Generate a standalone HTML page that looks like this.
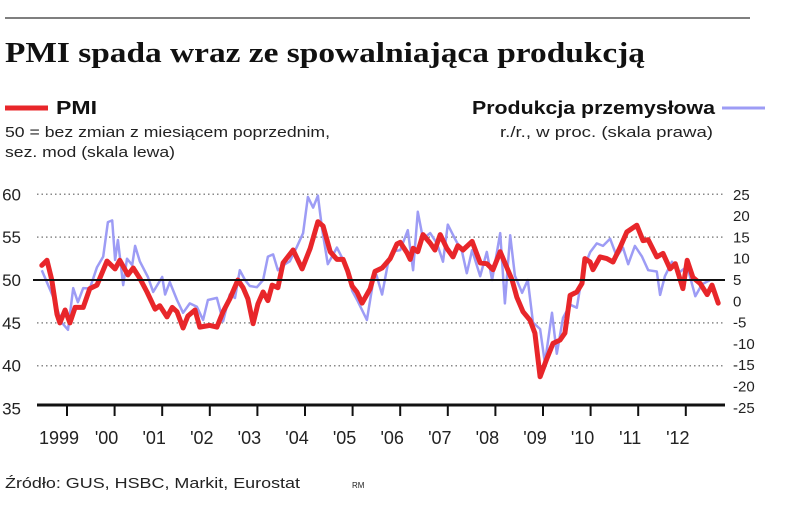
<!DOCTYPE html>
<html><head><meta charset="utf-8"><style>
body{margin:0;background:#fff;width:805px;height:508px;overflow:hidden;font-family:"Liberation Sans",sans-serif}
svg{display:block}
</style></head><body>
<svg id="chart" width="805" height="508" viewBox="0 0 805 508" xmlns="http://www.w3.org/2000/svg">
<line x1="5" y1="18" x2="750" y2="18" stroke="#555" stroke-width="1.5"/>
<text x="5" y="62" font-family="Liberation Serif" font-weight="bold" font-size="28" fill="#111" textLength="640" lengthAdjust="spacingAndGlyphs">PMI spada wraz ze spowalniająca produkcją</text>
<line x1="5" y1="108" x2="48" y2="108" stroke="#e8262a" stroke-width="5"/>
<text x="56" y="114" font-weight="bold" font-size="18" fill="#111" textLength="41" lengthAdjust="spacingAndGlyphs">PMI</text>
<text x="5" y="137" font-size="15" fill="#222" textLength="325" lengthAdjust="spacingAndGlyphs">50 = bez zmian z miesiącem poprzednim,</text>
<text x="5" y="157" font-size="15" fill="#222" textLength="170" lengthAdjust="spacingAndGlyphs">sez. mod (skala lewa)</text>
<text x="715" y="114" text-anchor="end" font-weight="bold" font-size="18" fill="#111" textLength="243" lengthAdjust="spacingAndGlyphs">Produkcja przemysłowa</text>
<line x1="722" y1="108" x2="765" y2="108" stroke="#9d9cf5" stroke-width="3"/>
<text x="713" y="137" text-anchor="end" font-size="15" fill="#222" textLength="213" lengthAdjust="spacingAndGlyphs">r./r., w proc. (skala prawa)</text>
<g id="grid"></g><g id="series"></g><g id="axes"></g>
<text x="5" y="488" font-size="15" fill="#222" textLength="295" lengthAdjust="spacingAndGlyphs">Źródło: GUS, HSBC, Markit, Eurostat</text>
<text x="352" y="488" font-size="8" fill="#222">RM</text>
</svg>
<script>
const yearLabels=["1999","'00","'01","'02","'03","'04","'05","'06","'07","'08","'09","'10","'11","'12"];
const leftTicks=[60,55,50,45,40,35];
const rightTicks=[25,20,15,10,5,0,-5,-10,-15,-20,-25];
const pmiDates=[1998.47,1998.58,1998.68,1998.79,1998.85,1998.96,1999.06,1999.17,1999.34,1999.48,1999.63,1999.84,2000.01,2000.11,2000.28,2000.39,2000.53,2000.68,2000.85,2000.95,2001.10,2001.21,2001.31,2001.44,2001.54,2001.69,2001.79,2002.00,2002.15,2002.28,2002.42,2002.59,2002.70,2002.80,2002.91,2003.01,2003.12,2003.22,2003.31,2003.43,2003.54,2003.75,2003.94,2004.11,2004.27,2004.38,2004.53,2004.67,2004.80,2004.90,2004.99,2005.09,2005.20,2005.37,2005.47,2005.62,2005.79,2005.93,2006.00,2006.14,2006.21,2006.27,2006.37,2006.48,2006.63,2006.73,2006.84,2006.98,2007.11,2007.21,2007.32,2007.51,2007.68,2007.82,2007.95,2008.10,2008.20,2008.35,2008.45,2008.58,2008.73,2008.83,2008.94,2009.08,2009.21,2009.36,2009.46,2009.57,2009.71,2009.82,2009.88,2009.99,2010.05,2010.20,2010.34,2010.47,2010.62,2010.76,2010.97,2011.10,2011.21,2011.39,2011.52,2011.67,2011.78,2011.94,2012.03,2012.15,2012.30,2012.45,2012.55,2012.68];
const pmiValues=[51.7,52.3,50,46,45,46.5,45,46.8,46.8,49,49.4,52.2,51.3,52.3,50.6,51.4,50.2,48.6,46.6,47,45.7,46.8,46.3,44.4,45.8,46.5,44.5,44.7,44.5,46.3,47.8,50,49.1,47.8,44.9,47.2,48.6,47.6,49.4,49.1,52,53.5,51.3,53.7,56.8,56.3,53.3,52.4,52.4,51,49.3,48.6,47.3,49,51,51.4,52.5,54.2,54.4,53.2,52.4,53.7,53.3,55.3,54.3,53.5,55.3,53.7,52.7,54,53.5,54.5,52,51.9,51.2,53.3,52,50,48,46.3,45.3,43.8,38.7,40.8,42.6,43,43.8,48.2,48.6,49.6,52.5,52.1,51.2,52.7,52.5,52.1,53.8,55.6,56.4,54.6,54.7,52.7,53.1,51.3,51.9,49,52.3,50.3,49.6,48.3,49.4,47.3];
const prodDates=[1998.47,1998.71,1998.89,1999.02,1999.13,1999.23,1999.34,1999.48,1999.63,1999.76,1999.86,1999.95,2000.01,2000.07,2000.18,2000.26,2000.37,2000.43,2000.53,2000.70,2000.81,2001.00,2001.06,2001.16,2001.31,2001.44,2001.58,2001.73,2001.86,2001.96,2002.15,2002.28,2002.42,2002.53,2002.63,2002.74,2002.84,2002.99,2003.12,2003.22,2003.33,2003.43,2003.58,2003.68,2003.83,2003.96,2004.06,2004.17,2004.27,2004.36,2004.48,2004.67,2004.88,2004.99,2005.11,2005.30,2005.47,2005.62,2005.74,2005.89,2006.00,2006.16,2006.27,2006.37,2006.48,2006.63,2006.77,2006.90,2007.00,2007.15,2007.30,2007.40,2007.51,2007.68,2007.82,2007.93,2008.10,2008.20,2008.31,2008.41,2008.56,2008.68,2008.79,2008.94,2009.04,2009.19,2009.29,2009.42,2009.57,2009.71,2009.84,2009.99,2010.13,2010.26,2010.41,2010.55,2010.68,2010.79,2010.93,2011.08,2011.21,2011.39,2011.46,2011.56,2011.71,2011.84,2012.03,2012.20,2012.34,2012.51];
const prodValues=[7.3,1,-5,-6.7,3.1,-0.2,3.1,3,8,10.5,18.6,19,9.7,14.4,3.8,10,8.5,13,9.4,5.7,2.2,5.7,1.6,4.5,0.3,-2.7,-0.5,-1.3,-4.4,0.3,0.8,-4.7,1.6,0.8,7.3,5,3.6,3.3,5,10.5,11,7.3,8.7,9.4,12.8,16,24.5,22,24.8,17,8.7,12.6,8,2.5,0,-4.4,7.3,1.6,8.7,11.8,12,16.7,7.3,21,14.7,16,13.6,9.3,18,14.7,11.6,6.6,12,5.9,11.6,5,16,-0.5,15.5,6,2,5,-5,-6.5,-14.5,-2.7,-12.3,-3.9,-0.8,-1.5,7.3,11.5,13.6,13,14.7,10.5,12.6,8.7,13,10.5,7.3,7,1.5,5.9,9.3,6.6,8.2,1.2,4,5];
const NS='http://www.w3.org/2000/svg';
const X=y=>67+(y-1999)*47.6;
const YL=v=>280-(v-50)*8.57;
const YR=v=>280-(v-5)*4.26;
function mk(tag,attrs,parent,txt){const e=document.createElementNS(NS,tag);for(const k in attrs)e.setAttribute(k,attrs[k]);if(txt!==undefined)e.textContent=txt;parent.appendChild(e);return e;}
const grid=document.getElementById('grid'),series=document.getElementById('series'),axes=document.getElementById('axes');
leftTicks.forEach(v=>{
  if(v===35||v===50)return;
  const l=mk('line',{x1:37,x2:725,y1:YL(v),y2:YL(v),stroke:'#888','stroke-width':1.5,'stroke-dasharray':'1.5,3'},grid);
  
  
});
leftTicks.forEach(v=>{
  const t=mk('text',{x:21,y:YL(v)+6,'text-anchor':'end','font-size':17,fill:'#222'},axes,String(v));
  
  
});
rightTicks.forEach(v=>{
  const t=mk('text',{x:733,y:YR(v)+5,'font-size':15,fill:'#222'},axes,String(v));
  
  
});
const prodPts=prodDates.map((d,i)=>X(d).toFixed(1)+','+YR(prodValues[i]).toFixed(1)).join(' ');
const pl=mk('polyline',{points:prodPts,fill:'none',stroke:'#9d9cf5','stroke-width':2.5,'stroke-linejoin':'round'},series);


const pmiPts=pmiDates.map((d,i)=>X(d).toFixed(1)+','+YL(pmiValues[i]).toFixed(1)).join(' ');
const rl=mk('polyline',{points:pmiPts,fill:'none',stroke:'#e8262a','stroke-width':5,'stroke-linejoin':'round','stroke-linecap':'round'},series);


const ref=mk('line',{x1:33,x2:725,y1:YL(50),y2:YL(50),stroke:'#111','stroke-width':2},axes);


const xa=mk('line',{x1:37,x2:725,y1:405,y2:405,stroke:'#111','stroke-width':3},axes);


yearLabels.forEach((lab,i)=>{
  const x=X(1999+i);
  const tk=mk('line',{x1:x,x2:x,y1:405,y2:416,stroke:'#111','stroke-width':2},axes);
  
  
  const t=mk('text',{x:x-8,y:444,'text-anchor':'middle','font-size':18,fill:'#222'},axes,lab);
  
  
});
</script>
</body></html>
